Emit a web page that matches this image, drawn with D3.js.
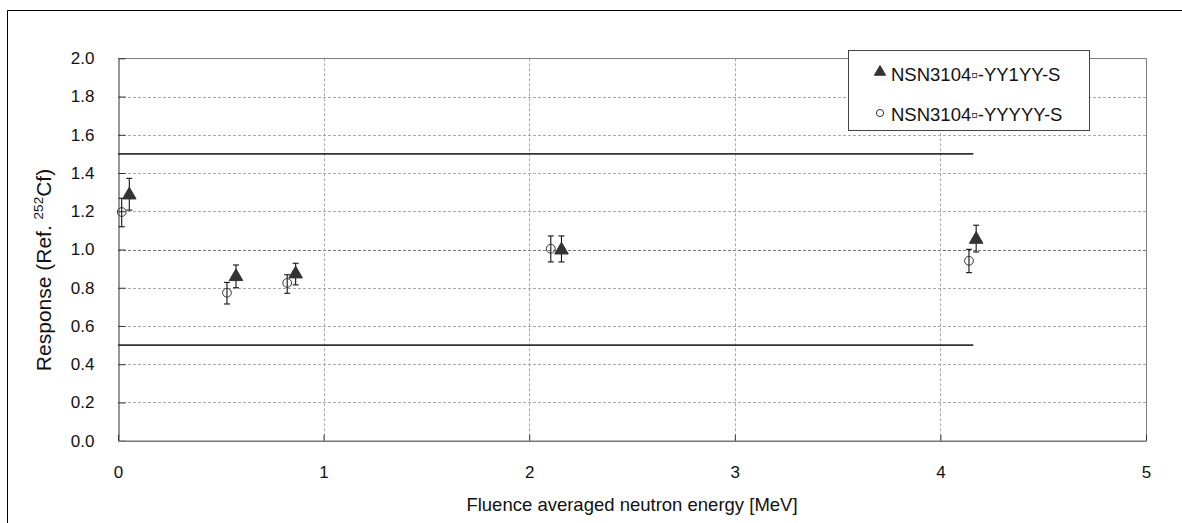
<!DOCTYPE html>
<html>
<head>
<meta charset="utf-8">
<script src="https://cdn.jsdelivr.net/npm/d3@7"></script>
<style>
  html, body { margin: 0; padding: 0; background: #fff; }
  svg { display: block; font-family: "Liberation Sans", Arial, sans-serif; }
</style>
</head>
<body>
<svg id="chart" width="1182" height="523"></svg>
<script>
// ---- data ----
const seriesNames = ["NSN3104\u25AB-YY1YY-S", "NSN3104\u25AB-YYYYY-S"];
const triEnergy = [0.055, 0.574, 0.864, 2.157, 4.174];
const triResponse = [1.285, 0.858, 0.872, 0.997, 1.053];
const triErrLow = [1.206, 0.800, 0.815, 0.935, 0.987];
const triErrHigh = [1.372, 0.919, 0.928, 1.071, 1.127];
const circEnergy = [0.018, 0.530, 0.823, 2.105, 4.139];
const circResponse = [1.196, 0.774, 0.825, 1.004, 0.941];
const circErrLow = [1.119, 0.715, 0.771, 0.935, 0.879];
const circErrHigh = [1.268, 0.828, 0.868, 1.071, 1.001];
const limitValues = [1.5, 0.5];
const limitEnergyRange = [0, 4.16];
const xTicks = [0, 1, 2, 3, 4, 5];
const yTicks = [0, 0.2, 0.4, 0.6, 0.8, 1.0, 1.2, 1.4, 1.6, 1.8, 2.0];
const xTitle = "Fluence averaged neutron energy [MeV]";

// ---- layout ----
const svg = d3.select("#chart");
const L = 118, R = 1146, T = 58.3, B = 440.7;
const x = d3.scaleLinear().domain([0, 5]).range([L, R]);
const y = d3.scaleLinear().domain([0, 2]).range([B, T]);
const FONT = "Liberation Sans, Arial, sans-serif";

// outer frame
svg.append("path").attr("d", "M7.5,523 V10.5 H1182")
  .attr("fill", "none").attr("stroke", "#000").attr("stroke-width", 1);

// gridlines
const g = svg.append("g");
g.selectAll(".hg").data(yTicks.filter(d => d > 0 && d < 2)).enter().append("line")
  .attr("x1", L).attr("x2", R)
  .attr("y1", d => Math.round(y(d)) + 0.5).attr("y2", d => Math.round(y(d)) + 0.5)
  .attr("stroke", d => Math.abs(d - 1) < 1e-9 ? "#777" : "#aaa")
  .attr("stroke-width", 1)
  .attr("stroke-dasharray", "3,2");
g.selectAll(".vg").data(xTicks.filter(d => d > 0 && d < 5)).enter().append("line")
  .attr("y1", T).attr("y2", B)
  .attr("x1", d => Math.round(x(d)) + 0.5).attr("x2", d => Math.round(x(d)) + 0.5)
  .attr("stroke", "#aaa").attr("stroke-width", 1).attr("stroke-dasharray", "3,2");

// plot frame (top/right)
svg.append("path")
  .attr("d", `M${L},${Math.round(T)+0.5} H${Math.round(R)+0.5} V${B}`)
  .attr("fill", "none").attr("stroke", "#808080").attr("stroke-width", 1);

// axes
const yAxis = d3.axisLeft(y).tickValues(yTicks).tickFormat(d3.format(".1f"))
  .tickSizeInner(-7).tickSizeOuter(0).tickPadding(24);
const yg = svg.append("g").attr("transform", `translate(${L + 0.5},0)`).call(yAxis);
yg.select(".domain").attr("stroke", "#333");
yg.selectAll(".tick line").attr("stroke", "#333");
yg.selectAll(".tick text").attr("font-size", 17).attr("fill", "#111")
  .attr("font-family", FONT);

const xAxis = d3.axisBottom(x).tickValues(xTicks).tickFormat(d3.format("d"))
  .tickSizeInner(-6).tickSizeOuter(0).tickPadding(25);
const xg = svg.append("g").attr("transform", `translate(0,${B})`).call(xAxis);
xg.select(".domain").attr("stroke", "#777").attr("stroke-width", 1.5);
xg.selectAll(".tick line").attr("stroke", "#333");
xg.selectAll(".tick text").attr("font-size", 17).attr("fill", "#111")
  .attr("font-family", FONT);

// limit lines
svg.selectAll(".lim").data(limitValues).enter().append("line")
  .attr("x1", x(limitEnergyRange[0])).attr("x2", x(limitEnergyRange[1]))
  .attr("y1", d => y(d)).attr("y2", d => y(d))
  .attr("stroke", "#333").attr("stroke-width", 1.6);

// error bars
function errorBars(xs, lo, hi) {
  const eg = svg.append("g").attr("stroke", "#111").attr("stroke-width", 1.1);
  xs.forEach((xv, i) => {
    const cx = x(xv);
    eg.append("line").attr("x1", cx).attr("x2", cx).attr("y1", y(lo[i])).attr("y2", y(hi[i]));
    eg.append("line").attr("x1", cx - 3).attr("x2", cx + 3).attr("y1", y(lo[i])).attr("y2", y(lo[i]));
    eg.append("line").attr("x1", cx - 3).attr("x2", cx + 3).attr("y1", y(hi[i])).attr("y2", y(hi[i]));
  });
}
errorBars(circEnergy, circErrLow, circErrHigh);
errorBars(triEnergy, triErrLow, triErrHigh);

// markers
const triPath = d3.symbol().type(d3.symbolTriangle).size(80)();
svg.append("g").selectAll("path").data(triEnergy).enter().append("path")
  .attr("d", triPath)
  .attr("transform", (d, i) => `translate(${x(d)},${y(triResponse[i])})`)
  .attr("fill", "#333").attr("stroke", "#333");
svg.append("g").selectAll("circle").data(circEnergy).enter().append("circle")
  .attr("cx", d => x(d)).attr("cy", (d, i) => y(circResponse[i]))
  .attr("r", 4.4).attr("fill", "none").attr("stroke", "#333").attr("stroke-width", 1);

// legend
const lg = svg.append("g");
lg.append("rect").attr("x", 848.5).attr("y", 50.5).attr("width", 241).attr("height", 80)
  .attr("fill", "#fff").attr("stroke", "#444").attr("stroke-width", 1);
lg.append("path").attr("d", d3.symbol().type(d3.symbolTriangle).size(55)())
  .attr("transform", "translate(880,72)")
  .attr("fill", "#333").attr("stroke", "#333");
lg.append("text").attr("x", 891).attr("y", 81).attr("font-size", 18.5).attr("fill", "#111")
  .attr("font-family", FONT).text(seriesNames[0]);
lg.append("circle").attr("cx", 880).attr("cy", 113).attr("r", 3.6)
  .attr("fill", "none").attr("stroke", "#333");
lg.append("text").attr("x", 891).attr("y", 121).attr("font-size", 18.5).attr("fill", "#111")
  .attr("font-family", FONT).text(seriesNames[1]);

// axis titles
svg.append("text").attr("x", 632).attr("y", 511).attr("text-anchor", "middle")
  .attr("font-size", 18.5).attr("fill", "#111").attr("font-family", FONT).text(xTitle);
const yt = svg.append("text").attr("transform", `translate(51,270) rotate(-90)`)
  .attr("text-anchor", "middle").attr("font-size", 21).attr("fill", "#111").attr("font-family", FONT);
yt.append("tspan").text("Response (Ref. ");
yt.append("tspan").attr("font-size", 13.5).attr("dy", -8).text("252");
yt.append("tspan").attr("dy", 8).text("Cf)");
</script>
</body>
</html>
